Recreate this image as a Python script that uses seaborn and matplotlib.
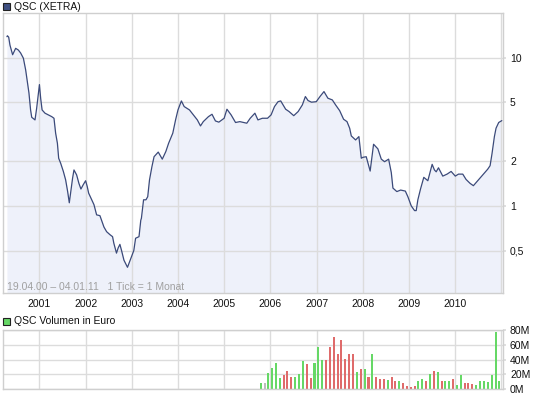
import matplotlib
matplotlib.use("Agg")
import matplotlib.pyplot as plt
import matplotlib.dates as mdates
from matplotlib.patches import Rectangle
import pandas as pd
import seaborn as sns

# QSC (XETRA) closing prices (EUR, log axis)
price_dates = [
    "2000-04-19", "2000-04-23", "2000-05-03", "2000-05-13", "2000-06-03", "2000-06-14",
    "2000-06-27", "2000-07-18", "2000-08-05", "2000-08-27", "2000-09-14", "2000-09-27",
    "2000-10-10", "2000-10-23", "2000-11-01", "2000-11-27", "2000-12-10", "2000-12-18",
    "2001-01-01", "2001-01-11", "2001-01-22", "2001-02-14", "2001-03-12", "2001-04-08",
    "2001-04-26", "2001-05-09", "2001-05-23", "2001-06-02", "2001-06-18", "2001-07-09",
    "2001-07-27", "2001-08-12", "2001-08-25", "2001-09-07", "2001-09-20", "2001-10-01",
    "2001-10-22", "2001-11-09", "2001-11-25", "2001-12-13", "2002-01-01", "2002-01-14",
    "2002-01-25", "2002-02-18", "2002-03-08", "2002-03-29", "2002-04-24", "2002-05-07",
    "2002-05-26", "2002-06-16", "2002-07-12", "2002-08-02", "2002-08-12", "2002-09-02",
    "2002-09-15", "2002-09-29", "2002-10-12", "2002-10-31", "2002-11-28", "2003-01-17",
    "2003-01-31", "2003-02-27", "2003-03-13", "2003-03-18", "2003-04-04", "2003-04-23",
    "2003-05-07", "2003-05-21", "2003-06-09", "2003-06-26", "2003-07-29", "2003-08-30",
    "2003-09-27", "2003-10-19", "2003-11-21", "2003-12-13", "2004-01-01", "2004-01-28",
    "2004-02-19", "2004-04-01", "2004-05-12", "2004-06-02", "2004-06-27", "2004-07-19",
    "2004-08-29", "2004-09-26", "2004-10-23", "2004-11-19", "2004-12-31", "2005-01-22",
    "2005-02-24", "2005-03-31", "2005-05-04", "2005-06-28", "2005-07-25", "2005-08-31",
    "2005-09-24", "2005-10-29", "2005-12-09", "2006-01-06", "2006-02-02", "2006-03-02",
    "2006-03-23", "2006-05-01", "2006-05-28", "2006-07-04", "2006-08-08", "2006-09-10",
    "2006-10-04", "2006-10-25", "2006-11-21", "2006-12-29", "2007-01-31", "2007-02-28",
    "2007-03-31", "2007-05-05", "2007-05-31", "2007-07-02", "2007-08-02", "2007-08-29",
    "2007-09-19", "2007-10-02", "2007-11-05", "2007-12-01", "2007-12-20", "2008-01-02",
    "2008-01-28", "2008-02-28", "2008-03-26", "2008-04-29", "2008-05-26", "2008-06-21",
    "2008-07-23", "2008-08-13", "2008-08-26", "2008-09-26", "2008-10-26", "2008-12-02",
    "2008-12-22", "2009-01-18", "2009-02-13", "2009-02-26", "2009-03-11", "2009-04-01",
    "2009-04-27", "2009-05-29", "2009-07-02", "2009-07-20", "2009-08-03", "2009-08-21",
    "2009-09-24", "2009-10-28", "2009-11-29", "2010-01-01", "2010-01-26", "2010-03-01",
    "2010-03-27", "2010-04-28", "2010-05-24", "2010-06-27", "2010-08-05", "2010-09-14",
    "2010-10-03", "2010-10-18", "2010-11-06", "2010-11-19", "2010-12-10", "2011-01-04",
]
price_values = [
    13.9, 14.1, 13.8, 12.2, 10.5, 11.0,
    11.6, 11.3, 10.8, 9.95, 8.3, 6.9,
    5.8, 4.45, 3.97, 3.81, 4.57, 5.2,
    6.6, 5.3, 4.45, 4.23, 4.12, 4.01,
    3.91, 3.10, 2.65, 2.10, 1.94, 1.71,
    1.50, 1.25, 1.05, 1.28, 1.54, 1.75,
    1.62, 1.42, 1.30, 1.39, 1.48, 1.35,
    1.22, 1.10, 1.02, 0.87, 0.86, 0.80,
    0.72, 0.67, 0.64, 0.62, 0.56, 0.48,
    0.52, 0.55, 0.50, 0.43, 0.385, 0.50,
    0.605, 0.62, 0.80, 0.826, 1.10, 1.10,
    1.155, 1.50, 1.84, 2.15, 2.31, 2.07,
    2.33, 2.65, 3.10, 3.81, 4.45, 5.12,
    4.69, 4.45, 4.01, 3.81, 3.47, 3.71,
    4.01, 4.16, 3.75, 3.68, 3.91, 4.50,
    4.12, 3.66, 3.71, 3.62, 3.91, 4.23,
    3.81, 3.91, 3.91, 4.12, 4.69, 5.06,
    5.12, 4.50, 4.34, 4.07, 4.34, 4.81,
    5.48, 5.15, 5.02, 5.06, 5.53, 5.92,
    5.34, 5.20, 4.81, 4.40, 3.85, 3.71,
    3.35, 2.97, 2.79, 2.94, 2.10, 2.13,
    2.15, 1.72, 2.61, 2.43, 2.07, 1.99,
    2.07, 1.68, 1.32, 1.25, 1.28, 1.26,
    1.155, 1.0, 0.93, 0.93, 1.10, 1.30,
    1.56, 1.48, 1.91, 1.75, 1.70, 1.81,
    1.59, 1.64, 1.71, 1.59, 1.64, 1.64,
    1.51, 1.42, 1.37, 1.48, 1.62, 1.77,
    1.87, 2.25, 2.94, 3.35, 3.66, 3.77,
]

# monthly volume in million EUR, Oct 2005 .. Dec 2010
vol_first_month = "2005-10-01"
vol_last_month = "2010-12-01"
vol_values = [
    8.5, 8.5, 22, 29, 34.6, 15, 19, 24, 16.6, 16.6,
    21, 38, 34, 15, 35.5, 57.5, 39.5, 39.5, 57.5, 70,
    48, 66.5, 41, 48, 48, 23, 26.5, 27.4, 15.7, 48,
    15.7, 14, 14, 12.6, 16.6, 10.3, 11.2, 7.6, 4, 3,
    4.5, 11.2, 14, 11.2, 21, 24, 23.4, 10.3, 10.3, 10.3,
    13, 5.8, 19.3, 8.5, 8.5, 7.2, 5.8, 11.2, 11.2, 9,
    19.3, 77.3, 10.3,
]
# u = up month, d = down month, f = unchanged
vol_moves = list(
    "ufuuuudddu"
    "uudduuuddd"
    "dddddududu"
    "dddudduddd"
    "duudududuu"
    "duuddduuuu"
    "uuu"
)

y_ticks = [0.5, 1, 2, 5, 10]
y_labels = ["0,5", "1", "2", "5", "10"]
vol_ticks = [0, 20, 40, 60, 80]
vol_labels = ["0M", "20M", "40M", "60M", "80M"]
year_ticks = list(range(2001, 2012))

LINE = "#3b4a7a"
FILL = "#eef1fa"
GRID = "#dcdcdc"
BORDER = "#cfcfcf"
COLORS = {"u": "#66d866", "d": "#df6b6b", "f": "#bcbcbc"}

sns.set_theme(style="white")
plt.rcParams["font.family"] = ["Liberation Sans", "DejaVu Sans"]

price = pd.DataFrame({"date": pd.to_datetime(price_dates), "price": price_values})
months = pd.date_range(vol_first_month, vol_last_month, freq="MS") + pd.Timedelta(days=14)
vol = pd.DataFrame({"x": mdates.date2num(months), "vol": vol_values, "move": vol_moves})

W, H = 545, 398
fig = plt.figure(figsize=(W / 100, H / 100), dpi=100)


def box(l, t, r, b):
    return [l / W, 1 - b / H, (r - l) / W, (b - t) / H]


ax = fig.add_axes(box(3, 13.3, 503, 293.3))
axv = fig.add_axes(box(3, 330, 503, 389))

x_lo = mdates.date2num(pd.Timestamp("2000-03-19"))
x_hi = mdates.date2num(pd.Timestamp("2011-01-13"))
year_pos = mdates.date2num(pd.to_datetime([f"{y}-01-01" for y in year_ticks]))

# price panel
ax.fill_between(price["date"], price["price"], 0.1, color=FILL, lw=0, zorder=0.2)
sns.lineplot(data=price, x="date", y="price", ax=ax, color=LINE, lw=0.9, zorder=2)
ax.set_yscale("log")
ax.set_ylim(0.257, 20.0)
ax.set_xlim(x_lo, x_hi)
ax.yaxis.set_minor_locator(plt.NullLocator())
ax.set_yticks(y_ticks)
ax.set_yticklabels(y_labels)
ax.set_xticks(year_pos)
ax.set_xticklabels([str(y) if y < 2011 else "" for y in year_ticks])
ax.text(0.008, 0.024, "19.04.00 \u2013 04.01.11   1 Tick = 1 Monat", transform=ax.transAxes,
        color="#a0a0a0", fontsize=7.5, va="center", ha="left")

# volume panel
axv.bar(vol["x"], vol["vol"], width=16, color=vol["move"].map(COLORS), lw=0, zorder=2)
axv.set_ylim(0, 80)
axv.set_xlim(x_lo, x_hi)
axv.set_yticks(vol_ticks)
axv.set_yticklabels(vol_labels)
axv.set_xticks(year_pos)
axv.set_xticklabels([])

for a in (ax, axv):
    a.set_xlabel("")
    a.set_ylabel("")
    a.grid(True, color=GRID, lw=1)
    a.set_axisbelow("line")
    a.yaxis.tick_right()
    a.tick_params(axis="both", length=2, color=GRID, labelsize=7.5, labelcolor="#111111", pad=3)
    for s in a.spines.values():
        s.set_visible(True)
        s.set_color(BORDER)
        s.set_linewidth(1)
ax.tick_params(axis="x", length=0, pad=4)
axv.tick_params(axis="x", length=0)

# legend-like headers
fig.add_artist(Rectangle((3 / W, 1 - 10.4 / H), 7.3 / W, 7.3 / H, transform=fig.transFigure,
                         facecolor="#3f5082", edgecolor="#222222", lw=0.8))
fig.text(13.5 / W, 1 - 6.8 / H, "QSC (XETRA)", fontsize=7.5, va="center", ha="left", color="#111111")
fig.add_artist(Rectangle((3 / W, 1 - 325 / H), 7.3 / W, 7.3 / H, transform=fig.transFigure,
                         facecolor="#66d866", edgecolor="#222222", lw=0.8))
fig.text(13.5 / W, 1 - 321.3 / H, "QSC Volumen in Euro", fontsize=7.5, va="center", ha="left",
         color="#111111")

fig.savefig("out.png", dpi=100)
